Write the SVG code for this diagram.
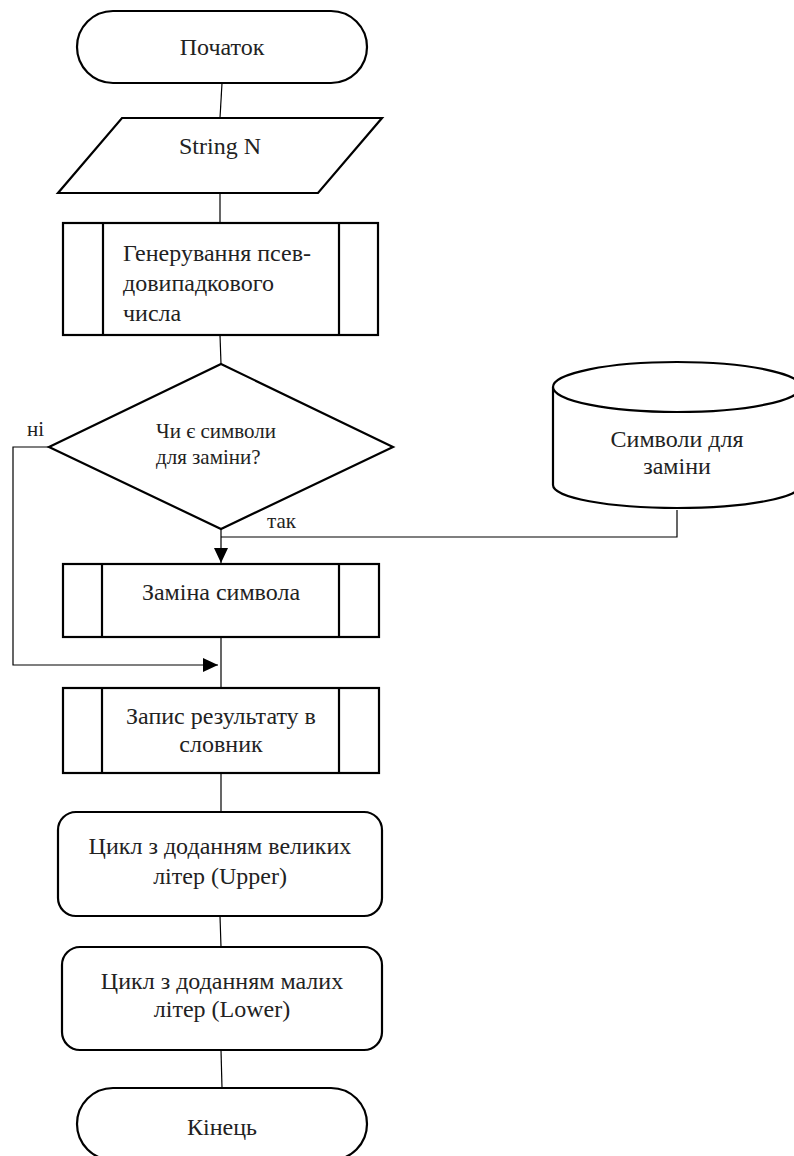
<svg xmlns="http://www.w3.org/2000/svg" width="794" height="1156" viewBox="0 0 794 1156">
<style>
.s{fill:#fff;stroke:#000;stroke-width:2.2}
.c{fill:none;stroke:#000;stroke-width:1.2}
.t{font-family:"Liberation Serif","Times New Roman",serif;font-size:24px;fill:#222}
.m{text-anchor:middle}
.sm{font-size:21px}
</style>
<defs>
<marker id="ar" markerWidth="16" markerHeight="16" refX="15" refY="7" orient="auto" markerUnits="userSpaceOnUse">
<path d="M0,0 L15,7 L0,14 Z" fill="#000"/>
</marker>
</defs>
<g id="connectors">
<path class="c" d="M222,83 L220,118"/>
<path class="c" d="M220,193 L220,223"/>
<path class="c" d="M220,335 L221,364"/>
<path class="c" d="M221,529 L221,563" marker-end="url(#ar)"/>
<path class="c" d="M221,537 L677,537 L677,510"/>
<path class="c" d="M49,447 L13,447 L13,665 L218,665" marker-end="url(#ar)"/>
<path class="c" d="M221,637 L221,688"/>
<path class="c" d="M221,773 L221,812"/>
<path class="c" d="M220,916 L221,947"/>
<path class="c" d="M221,1050 L222,1088"/>
<text class="t sm" x="27" y="436" font-family="Liberation Serif, serif">ні</text>
<text class="t sm" x="267" y="528" font-family="Liberation Serif, serif">так</text>
</g>
<g id="start">
<rect class="s" x="77" y="11" width="290" height="72" rx="36"/>
<text class="t m" x="222" y="55" font-family="Liberation Serif, serif">Початок</text>
</g>
<g id="input">
<polygon class="s" points="122,118 382,118 318,193 58,193"/>
<text class="t m" x="220" y="154" font-family="Liberation Serif, serif">String N</text>
</g>
<g id="gen">
<rect class="s" x="63" y="223" width="315" height="112"/>
<line class="s" x1="103" y1="223" x2="103" y2="335"/>
<line class="s" x1="339" y1="223" x2="339" y2="335"/>
<text class="t" x="123" y="261" font-family="Liberation Serif, serif">Генерування псев-</text>
<text class="t" x="123" y="291" font-family="Liberation Serif, serif">довипадкового</text>
<text class="t" x="123" y="321" font-family="Liberation Serif, serif">числа</text>
</g>
<g id="decision">
<polygon class="s" points="221,364 393,447 221,529 49,447"/>
<text class="t sm" x="156" y="438" font-family="Liberation Serif, serif">Чи є символи</text>
<text class="t sm" x="156" y="464" font-family="Liberation Serif, serif">для заміни?</text>
</g>
<g id="storage">
<path class="s" d="M553,387 L553,485 A124,23 0 0 0 801,485 L801,387 A124,25 0 0 0 553,387 Z"/>
<path class="s" fill="none" d="M553,387 A124,25 0 0 0 801,387"/>
<text class="t m" x="677" y="447" font-family="Liberation Serif, serif">Символи для</text>
<text class="t m" x="677" y="474" font-family="Liberation Serif, serif">заміни</text>
</g>
<g id="replace">
<rect class="s" x="63" y="564" width="316" height="73"/>
<line class="s" x1="102" y1="564" x2="102" y2="637"/>
<line class="s" x1="339" y1="564" x2="339" y2="637"/>
<text class="t m" x="221" y="600" font-family="Liberation Serif, serif">Заміна символа</text>
</g>
<g id="record">
<rect class="s" x="63" y="688" width="316" height="85"/>
<line class="s" x1="102" y1="688" x2="102" y2="773"/>
<line class="s" x1="339" y1="688" x2="339" y2="773"/>
<text class="t m" x="221" y="724" font-family="Liberation Serif, serif">Запис результату в</text>
<text class="t m" x="221" y="752" font-family="Liberation Serif, serif">словник</text>
</g>
<g id="upper">
<rect class="s" x="58" y="812" width="324" height="104" rx="18"/>
<text class="t m" x="220" y="854" font-family="Liberation Serif, serif">Цикл з доданням великих</text>
<text class="t m" x="220" y="884" font-family="Liberation Serif, serif">літер (Upper)</text>
</g>
<g id="lower">
<rect class="s" x="62" y="947" width="320" height="103" rx="18"/>
<text class="t m" x="222" y="989" font-family="Liberation Serif, serif">Цикл з доданням малих</text>
<text class="t m" x="222" y="1017" font-family="Liberation Serif, serif">літер (Lower)</text>
</g>
<g id="end">
<rect class="s" x="77" y="1088" width="290" height="72" rx="36"/>
<text class="t m" x="222" y="1135" font-family="Liberation Serif, serif">Кінець</text>
</g>
</svg>
